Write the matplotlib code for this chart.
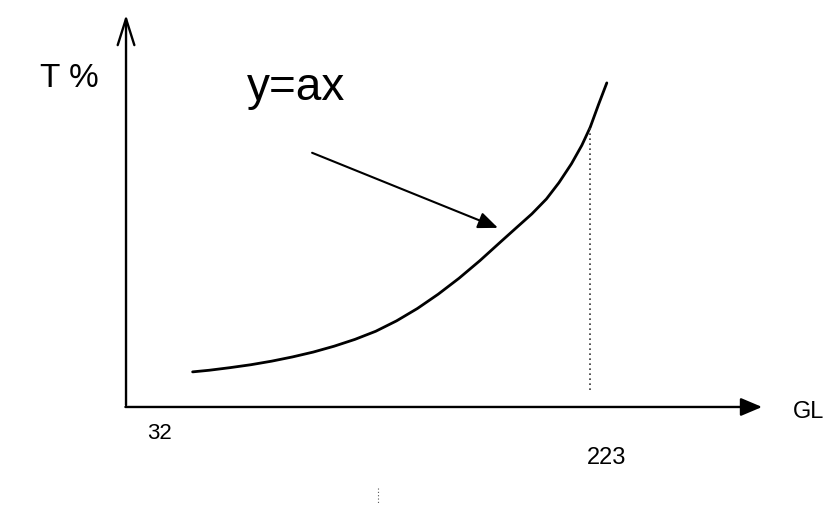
import matplotlib
matplotlib.use('Agg')
import matplotlib.pyplot as plt

plt.rcParams['font.family'] = ['Liberation Sans', 'DejaVu Sans']

# Courbe T% en fonction du niveau de gris (GL)
gl = [32, 40, 50, 60, 70, 80, 90, 100, 110, 120, 130, 140, 150, 160, 170, 180, 188,
      195, 202, 208, 214, 219, 223, 227, 231]
t_pct = [10.8, 11.3, 12.1, 13.0, 14.1, 15.4, 16.9, 18.7, 20.8, 23.3, 26.5, 30.3, 34.7,
         39.6, 45.0, 50.8, 55.4, 59.4, 64.0, 69.0, 74.8, 80.5, 86.0, 93.0, 99.7]

# Repères
gl_min, gl_max = 32, 223
ligne_223 = [5.2, 86.2]

fig = plt.figure(figsize=(8.37, 5.11), dpi=100)
ax = fig.add_axes([0, 0, 1, 1])
ax.set_xlim(-60.55, 341.6)
ax.set_ylim(-32.0, 125.2)
ax.axis('off')

# Axes avec flèches
ax.annotate('', xy=(0, 121.5), xytext=(0, -0.3),
            arrowprops=dict(arrowstyle='->,head_length=1.9,head_width=0.6', lw=1.7, color='black'))
ax.annotate('', xy=(305.6, 0), xytext=(-0.3, 0),
            arrowprops=dict(arrowstyle='-|>,head_length=1.3,head_width=0.55', lw=1.7,
                            color='black', shrinkA=0, shrinkB=0))

# Courbe
ax.plot(gl, t_pct, color='black', lw=2.0, solid_capstyle='round', solid_joinstyle='round')

# Trait pointillé à 223
ax.plot([gl_max, gl_max], ligne_223, color='#333333', lw=1.2, linestyle=(0, (1, 2)))

# Petit trait en bas
ax.plot([121.1, 121.1], [-24.9, -29.5], color='#555555', lw=0.8, linestyle=(0, (1, 2)))

# Flèche y=ax
ax.annotate('', xy=(178.7, 55.1), xytext=(89.4, 78.2),
            arrowprops=dict(arrowstyle='-|>,head_length=1.2,head_width=0.5', lw=1.5,
                            color='black', shrinkA=0, shrinkB=0))

# Textes
ax.text(-41.3, 101.2, 'T %', fontsize=24, ha='left', va='center')
ax.text(58.1, 98.2, 'y=ax', fontsize=33, ha='left', va='center')
ax.text(16.3, -8.3, str(gl_min), fontsize=16, ha='center', va='center')
ax.text(231.1, -15.7, str(gl_max), fontsize=17, ha='center', va='center')
ax.text(327.7, -1.5, 'GL', fontsize=17, ha='center', va='center')

fig.savefig('out.png', dpi=100)
